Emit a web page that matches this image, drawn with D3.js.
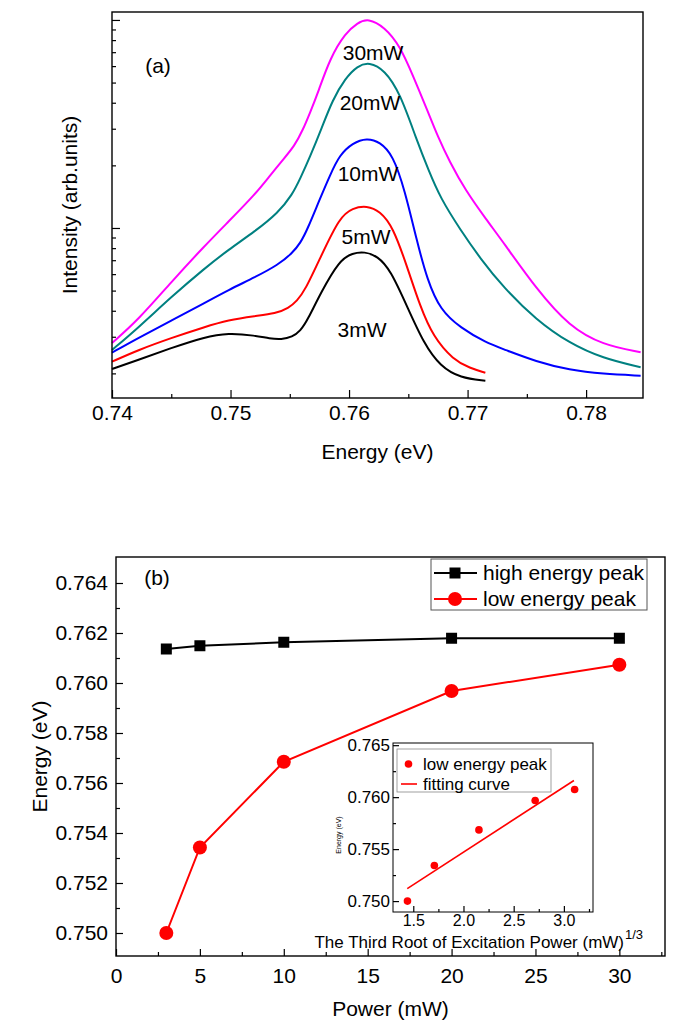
<!DOCTYPE html>
<html><head><meta charset="utf-8">
<script src="https://cdn.jsdelivr.net/npm/d3@7"></script>
<style>
body{margin:0;background:#fff}
text{font-family:"Liberation Sans",Arial,Helvetica,sans-serif;fill:#000}
</style>
</head><body>
<svg id="chart" width="685" height="1036"></svg>
<script>
// ---------------- Panel (a) data: PL spectra [energy eV, intensity arb.] ----------------
const spec3mW = [[0.7400,0.210],[0.7422,0.232],[0.7450,0.265],[0.7478,0.299],[0.7498,0.313],[0.7521,0.304],[0.7533,0.294],[0.7543,0.291],[0.7552,0.299],[0.7559,0.320],[0.7565,0.361],[0.7576,0.487],[0.7592,0.702],[0.7603,0.758],[0.7613,0.769],[0.7624,0.734],[0.7635,0.628],[0.7649,0.419],[0.7663,0.279],[0.7677,0.216],[0.7694,0.190],[0.7715,0.1845]];
const spec5mW = [[0.7400,0.2276],[0.7422,0.259],[0.7450,0.296],[0.7478,0.334],[0.7498,0.361],[0.7521,0.3775],[0.7538,0.388],[0.7549,0.412],[0.7556,0.446],[0.7563,0.503],[0.7576,0.725],[0.7592,1.129],[0.7603,1.248],[0.7615,1.280],[0.7626,1.207],[0.7637,1.015],[0.7649,0.652],[0.7660,0.419],[0.7671,0.300],[0.7688,0.232],[0.7702,0.212],[0.7715,0.2015]];
const spec10mW = [[0.7400,0.2515],[0.7422,0.296],[0.7450,0.358],[0.7478,0.436],[0.7498,0.503],[0.7521,0.581],[0.7540,0.664],[0.7552,0.756],[0.7559,0.847],[0.7565,0.989],[0.7575,1.363],[0.7584,1.798],[0.7592,2.244],[0.7603,2.563],[0.7615,2.709],[0.7626,2.592],[0.7637,2.244],[0.7647,1.523],[0.7657,0.876],[0.7666,0.562],[0.7677,0.403],[0.7694,0.331],[0.7716,0.280],[0.7730,0.262],[0.7758,0.2276],[0.7786,0.2076],[0.7814,0.1987],[0.7846,0.195]];
const spec20mW = [[0.7400,0.259],[0.7422,0.331],[0.7450,0.466],[0.7478,0.639],[0.7498,0.784],[0.7521,0.967],[0.7540,1.181],[0.7552,1.441],[0.7559,1.739],[0.7567,2.194],[0.7577,3.026],[0.7586,4.125],[0.7597,5.26],[0.7607,6.01],[0.7617,6.28],[0.7630,5.75],[0.7643,4.457],[0.7657,2.65],[0.7667,1.900],[0.7677,1.394],[0.7694,0.978],[0.7711,0.710],[0.7730,0.520],[0.7758,0.361],[0.7786,0.279],[0.7814,0.2363],[0.7846,0.214]];
const spec30mW = [[0.7400,0.280],[0.7422,0.361],[0.7450,0.550],[0.7478,0.819],[0.7498,1.069],[0.7521,1.457],[0.7533,1.778],[0.7544,2.123],[0.7554,2.479],[0.7561,2.960],[0.7567,3.572],[0.7574,4.507],[0.7584,6.566],[0.7597,8.66],[0.7607,9.67],[0.7616,10.2],[0.7630,9.25],[0.7643,7.50],[0.7654,5.38],[0.7666,3.69],[0.7675,2.739],[0.7685,2.076],[0.7698,1.523],[0.7716,1.093],[0.7730,0.856],[0.7758,0.509],[0.7786,0.335],[0.7814,0.274],[0.7846,0.2526]];
const seriesNamesA = ["3mW","5mW","10mW","20mW","30mW"];
const seriesColorsA = ["#000000","#ff0000","#0000ff","#008080","#ff00ff"];
// label anchor [energy, intensity at text baseline]
const labelPosA = [[0.7611,0.299],[0.76143,0.838],[0.7616,1.683],[0.76177,3.69],[0.76203,6.42]];
const xTicksA = [0.74,0.75,0.76,0.77,0.78];
const xMinorA = [0.745,0.755,0.765,0.775];
const yMajorA = [1,10];
const yMinorA = [0.2,0.3,0.4,0.5,0.6,0.7,0.8,0.9,2,3,4,5,6,7,8,9];

// ---------------- Panel (b) data ----------------
const powers = [3,5,10,20,30];
const highPeak = [0.76136,0.76149,0.76163,0.76179,0.76179];
const lowPeak = [0.75000,0.75342,0.75685,0.75968,0.76073];
const xTicksB = [0,5,10,15,20,25,30];
const xMinorB = [2.5,7.5,12.5,17.5,22.5,27.5,32.5];
const yTicksB = [0.750,0.752,0.754,0.756,0.758,0.760,0.762,0.764];
const yMinorB = [0.751,0.753,0.755,0.757,0.759,0.761,0.763];
// inset
const cubeRootPower = [1.442,1.710,2.154,2.714,3.107];
const fitX = [1.44,3.10];
const fitY = [0.7512,0.7616];
const xTicksIn = [1.5,2.0,2.5,3.0];
const xMinorIn = [1.75,2.25,2.75,3.25];
const yTicksIn = [0.750,0.755,0.760,0.765];
const yMinorIn = [0.7525,0.7575,0.7625];

const svg = d3.select("#chart");
const FONT = 21;

function frame(g, x0, y0, x1, y1, sw){
  g.append("rect").attr("x",x0).attr("y",y0).attr("width",x1-x0).attr("height",y1-y0)
   .attr("fill","none").attr("stroke","#000").attr("stroke-width",sw||1.4);
}
function styleAxis(sel, fs){
  sel.select(".domain").remove();
  sel.selectAll("line").attr("stroke","#000").attr("stroke-width",1.2);
  sel.selectAll("text").attr("font-size",fs).attr("font-family","Liberation Sans, Arial, sans-serif").attr("fill","#000");
}

// ================= Panel (a) =================
const A = {l:112, r:643, t:12, b:398};
const xA = d3.scaleLinear().domain([0.74,0.7848]).range([A.l,A.r]);
const yA = d3.scaleLog().domain([0.1523,10.92]).range([A.b,A.t]);
const gA = svg.append("g");

const lineA = d3.line().x(d=>xA(d[0])).y(d=>yA(d[1])).curve(d3.curveBasis);
const specs = [spec3mW,spec5mW,spec10mW,spec20mW,spec30mW];
specs.forEach((s,i)=>{
  gA.append("path").datum(s).attr("d",lineA).attr("fill","none")
    .attr("stroke",seriesColorsA[i]).attr("stroke-width",2);
});
seriesNamesA.forEach((n,i)=>{
  gA.append("text").attr("x",xA(labelPosA[i][0])).attr("y",yA(labelPosA[i][1]))
    .attr("text-anchor","middle").attr("font-size",FONT).text(n);
});

gA.append("g").attr("transform",`translate(0,${A.b})`)
  .call(d3.axisBottom(xA).tickValues(xTicksA).tickSize(-8).tickPadding(7).tickFormat(d3.format(".2f")))
  .call(s=>styleAxis(s,FONT));
gA.append("g").attr("transform",`translate(0,${A.b})`)
  .call(d3.axisBottom(xA).tickValues(xMinorA).tickSize(-4).tickFormat(""))
  .call(s=>styleAxis(s,FONT));
gA.append("g").attr("transform",`translate(${A.l},0)`)
  .call(d3.axisLeft(yA).tickValues(yMajorA).tickSize(-8).tickFormat(""))
  .call(s=>styleAxis(s,FONT));
gA.append("g").attr("transform",`translate(${A.l},0)`)
  .call(d3.axisLeft(yA).tickValues(yMinorA).tickSize(-4).tickFormat(""))
  .call(s=>styleAxis(s,FONT));
frame(gA,A.l,A.t,A.r,A.b);

gA.append("text").attr("x",158).attr("y",73).attr("text-anchor","middle").attr("font-size",FONT).text("(a)");
gA.append("text").attr("x",(A.l+A.r)/2).attr("y",459).attr("text-anchor","middle").attr("font-size",FONT).text("Energy (eV)");
gA.append("text").attr("transform",`translate(77,${(A.t+A.b)/2}) rotate(-90)`).attr("text-anchor","middle").attr("font-size",FONT).text("Intensity (arb.units)");

// ================= Panel (b) =================
const B = {l:116, r:665, t:557, b:956};
const xB = d3.scaleLinear().domain([0,32.72]).range([B.l,B.r]);
const yB = d3.scaleLinear().domain([0.74908,0.76504]).range([B.b,B.t]);
const gB = svg.append("g");

gB.append("g").attr("transform",`translate(0,${B.b})`)
  .call(d3.axisBottom(xB).tickValues(xTicksB).tickSize(-7).tickPadding(12).tickFormat(d3.format("d")))
  .call(s=>styleAxis(s,FONT));
gB.append("g").attr("transform",`translate(0,${B.b})`)
  .call(d3.axisBottom(xB).tickValues(xMinorB).tickSize(-4).tickFormat(""))
  .call(s=>styleAxis(s,FONT));
gB.append("g").attr("transform",`translate(${B.l},0)`)
  .call(d3.axisLeft(yB).tickValues(yTicksB).tickSize(-7).tickPadding(8).tickFormat(d3.format(".3f")))
  .call(s=>styleAxis(s,FONT));
gB.append("g").attr("transform",`translate(${B.l},0)`)
  .call(d3.axisLeft(yB).tickValues(yMinorB).tickSize(-4).tickFormat(""))
  .call(s=>styleAxis(s,FONT));
frame(gB,B.l,B.t,B.r,B.b);

const lineB = d3.line().x((d,i)=>xB(powers[i])).y(d=>yB(d));
gB.append("path").datum(highPeak).attr("d",lineB).attr("fill","none").attr("stroke","#000").attr("stroke-width",2);
gB.append("path").datum(lowPeak).attr("d",lineB).attr("fill","none").attr("stroke","#ff0000").attr("stroke-width",2);
gB.selectAll("rect.hp").data(highPeak).join("rect").attr("class","hp")
  .attr("x",(d,i)=>xB(powers[i])-5.5).attr("y",d=>yB(d)-5.5).attr("width",11).attr("height",11).attr("fill","#000");
gB.selectAll("circle.lp").data(lowPeak).join("circle").attr("class","lp")
  .attr("cx",(d,i)=>xB(powers[i])).attr("cy",d=>yB(d)).attr("r",7).attr("fill","#ff0000");

gB.append("text").attr("x",157).attr("y",585).attr("text-anchor","middle").attr("font-size",FONT).text("(b)");
gB.append("text").attr("x",(B.l+B.r)/2).attr("y",1016).attr("text-anchor","middle").attr("font-size",FONT).text("Power (mW)");
gB.append("text").attr("transform",`translate(47,${(B.t+B.b)/2}) rotate(-90)`).attr("text-anchor","middle").attr("font-size",FONT).text("Energy (eV)");

// legend
const lg = gB.append("g");
lg.append("rect").attr("x",431).attr("y",559).attr("width",216).attr("height",51).attr("fill","#fff").attr("stroke","#555").attr("stroke-width",1);
lg.append("line").attr("x1",434).attr("x2",477).attr("y1",573).attr("y2",573).attr("stroke","#000").attr("stroke-width",2);
lg.append("rect").attr("x",455-5.5).attr("y",573-5.5).attr("width",11).attr("height",11).attr("fill","#000");
lg.append("text").attr("x",483).attr("y",580).attr("font-size",FONT).text("high energy peak");
lg.append("line").attr("x1",434).attr("x2",477).attr("y1",599).attr("y2",599).attr("stroke","#ff0000").attr("stroke-width",2);
lg.append("circle").attr("cx",455).attr("cy",599).attr("r",7).attr("fill","#ff0000");
lg.append("text").attr("x",483).attr("y",606).attr("font-size",FONT).text("low energy peak");

// ================= Inset =================
const I = {l:393, r:593, t:743, b:912};
const FI = 17;
const xI = d3.scaleLinear().domain([1.298,3.29]).range([I.l,I.r]);
const yI = d3.scaleLinear().domain([0.74895,0.76521]).range([I.b,I.t]);
const gI = svg.append("g");
gI.append("rect").attr("x",I.l).attr("y",I.t).attr("width",I.r-I.l).attr("height",I.b-I.t).attr("fill","#fff");
gI.append("g").attr("transform",`translate(0,${I.b})`)
  .call(d3.axisBottom(xI).tickValues(xTicksIn).tickSize(-6).tickPadding(3).tickFormat(d3.format(".1f")))
  .call(s=>styleAxis(s,16));
gI.append("g").attr("transform",`translate(0,${I.b})`)
  .call(d3.axisBottom(xI).tickValues(xMinorIn).tickSize(-3).tickFormat(""))
  .call(s=>styleAxis(s,16));
gI.append("g").attr("transform",`translate(${I.l},0)`)
  .call(d3.axisLeft(yI).tickValues(yTicksIn).tickSize(-6).tickPadding(3).tickFormat(d3.format(".3f")))
  .call(s=>styleAxis(s,FI));
gI.append("g").attr("transform",`translate(${I.l},0)`)
  .call(d3.axisLeft(yI).tickValues(yMinorIn).tickSize(-3).tickFormat(""))
  .call(s=>styleAxis(s,FI));
frame(gI,I.l,I.t,I.r,I.b,1);

gI.append("path").datum(fitX.map((x,i)=>[x,fitY[i]]))
  .attr("d",d3.line().x(d=>xI(d[0])).y(d=>yI(d[1]))).attr("fill","none").attr("stroke","#ff0000").attr("stroke-width",1.6);
gI.selectAll("circle.ip").data(lowPeak).join("circle").attr("class","ip")
  .attr("cx",(d,i)=>xI(cubeRootPower[i])).attr("cy",d=>yI(d)).attr("r",3.8).attr("fill","#ff0000");

// inset legend
gI.append("rect").attr("x",397).attr("y",749).attr("width",154).attr("height",43).attr("fill","none").attr("stroke","#888").attr("stroke-width",0.8);
gI.append("circle").attr("cx",408.5).attr("cy",764).attr("r",3.8).attr("fill","#ff0000");
gI.append("text").attr("x",423).attr("y",770).attr("font-size",FI).text("low energy peak");
gI.append("line").attr("x1",401).attr("x2",417).attr("y1",784).attr("y2",784).attr("stroke","#ff0000").attr("stroke-width",1.6);
gI.append("text").attr("x",423).attr("y",790).attr("font-size",FI).text("fitting curve");

// inset axis titles
gI.append("text").attr("transform",`translate(341,835) rotate(-90)`).attr("text-anchor","middle").attr("font-size",7).text("Energy (eV)");
gI.append("text").attr("x",624).attr("y",948).attr("text-anchor","end").attr("font-size",FI).text("The Third Root of Excitation Power (mW)");
gI.append("text").attr("x",625).attr("y",939).attr("font-size",13).text("1/3");
</script>
</body></html>
